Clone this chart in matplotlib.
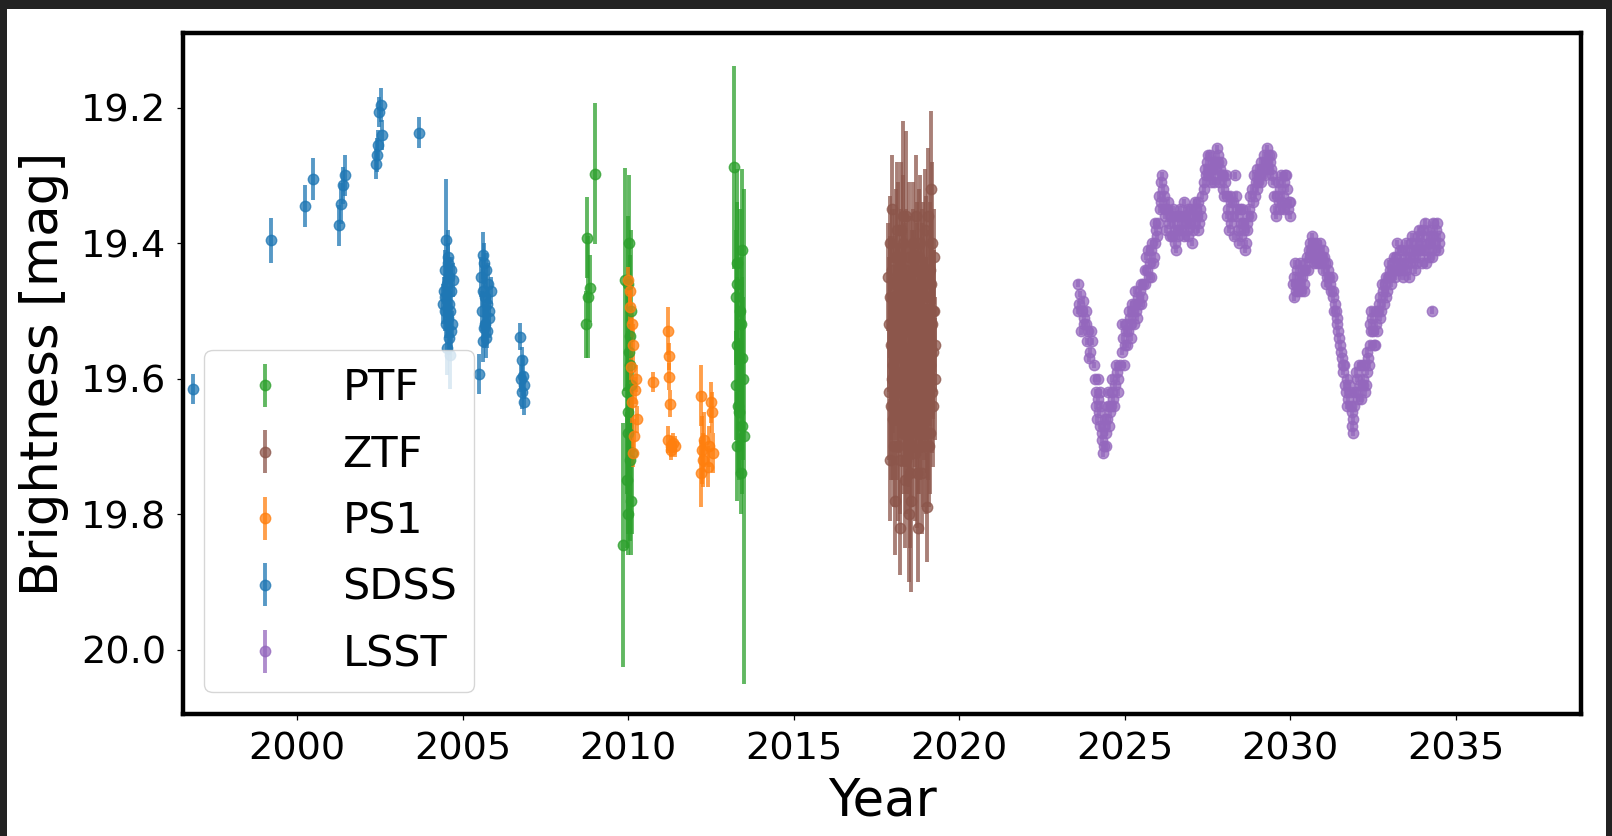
import matplotlib
matplotlib.use('Agg')
import matplotlib.pyplot as plt
from matplotlib.patches import Rectangle
import numpy as np

# ---- light curve data (year, magnitude, error)

sdss_year = [1996.86, 1999.21, 2000.24, 2000.49, 2001.27, 2001.33, 2001.38, 2001.45,
             2002.38, 2002.40, 2002.45, 2002.48, 2002.52, 2002.56, 2003.67,
             2004.50, 2004.55, 2004.45, 2004.60, 2004.52, 2004.65, 2004.48, 2004.58,
             2004.62, 2004.42, 2004.70, 2004.55, 2004.50, 2004.64, 2004.45, 2004.58,
             2004.68, 2004.52, 2004.62, 2004.56, 2004.66, 2004.40,
             2005.60, 2005.65, 2005.70, 2005.55, 2005.75, 2005.62, 2005.68, 2005.72,
             2005.58, 2005.80, 2005.66, 2005.74, 2005.70, 2005.64, 2005.78, 2005.62,
             2005.50, 2005.85,
             2006.72, 2006.78, 2006.82, 2006.85, 2006.80, 2006.86, 2006.76]
sdss_mag = [19.615, 19.396, 19.345, 19.305, 19.374, 19.342, 19.315, 19.300,
            19.283, 19.270, 19.255, 19.206, 19.196, 19.240, 19.237,
            19.396, 19.420, 19.440, 19.450, 19.460, 19.470, 19.480, 19.490,
            19.500, 19.470, 19.455, 19.510, 19.520, 19.530, 19.500, 19.540,
            19.520, 19.555, 19.565, 19.430, 19.440, 19.490,
            19.418, 19.430, 19.440, 19.450, 19.460, 19.470, 19.480, 19.490,
            19.500, 19.510, 19.520, 19.530, 19.540, 19.525, 19.500, 19.545,
            19.593, 19.470,
            19.538, 19.573, 19.596, 19.610, 19.620, 19.634, 19.600]
sdss_err = [0.022, 0.033, 0.031, 0.031, 0.030, 0.030, 0.028, 0.030,
            0.022, 0.025, 0.022, 0.022, 0.025, 0.022, 0.023,
            0.090, 0.040, 0.030, 0.030, 0.030, 0.030, 0.030, 0.025,
            0.030, 0.020, 0.025, 0.030, 0.020, 0.030, 0.030, 0.025,
            0.020, 0.040, 0.050, 0.030, 0.020, 0.030,
            0.035, 0.030, 0.025, 0.030, 0.030, 0.025, 0.030, 0.025,
            0.030, 0.030, 0.030, 0.025, 0.030, 0.030, 0.025, 0.030,
            0.030, 0.020,
            0.020, 0.020, 0.030, 0.020, 0.025, 0.020, 0.020]

ps1_year = [2010.00, 2010.05, 2010.10, 2010.15, 2010.08, 2010.20, 2010.12, 2010.25,
            2010.18, 2010.05, 2010.22, 2010.15,
            2010.74,
            2011.20, 2011.22, 2011.22, 2011.25, 2011.20, 2011.30, 2011.35, 2011.28, 2011.40,
            2012.20, 2012.22, 2012.25, 2012.20, 2012.30, 2012.45, 2012.50, 2012.52,
            2012.55, 2012.40]
ps1_mag = [19.455, 19.494, 19.519, 19.550, 19.583, 19.617, 19.635, 19.660,
           19.684, 19.470, 19.600, 19.710,
           19.605,
           19.530, 19.567, 19.597, 19.637, 19.690, 19.700, 19.695, 19.705, 19.700,
           19.625, 19.705, 19.720, 19.740, 19.690, 19.700, 19.635, 19.650,
           19.710, 19.730]
ps1_err = [0.020, 0.025, 0.020, 0.030, 0.025, 0.020, 0.030, 0.020,
           0.025, 0.020, 0.020, 0.020,
           0.015,
           0.035, 0.020, 0.020, 0.020, 0.020, 0.015, 0.015, 0.015, 0.015,
           0.045, 0.050, 0.040, 0.050, 0.040, 0.030, 0.030, 0.030,
           0.030, 0.030]

ptf_year = [2008.75, 2008.78, 2008.85, 2008.72, 2009.00,
            2009.85, 2009.90, 2010.00, 2010.05, 2010.02, 2010.08, 2010.00, 2010.10,
            2009.95, 2010.00, 2010.05, 2009.98, 2010.03, 2010.07, 2009.97, 2010.04,
            2010.09,
            2013.20, 2013.45, 2013.30, 2013.25, 2013.40, 2013.30, 2013.45, 2013.25,
            2013.45, 2013.50, 2013.35, 2013.30, 2013.28, 2013.38, 2013.48, 2013.32,
            2013.42]
ptf_mag = [19.392, 19.480, 19.467, 19.520, 19.298,
           19.845, 19.454, 19.460, 19.537, 19.560, 19.610, 19.650, 19.710,
           19.750, 19.800, 19.580, 19.680, 19.400, 19.500, 19.620, 19.720,
           19.780,
           19.288, 19.410, 19.460, 19.480, 19.520, 19.550, 19.570, 19.610,
           19.670, 19.685, 19.650, 19.700, 19.430, 19.500, 19.600, 19.640,
           19.740]
ptf_err = [0.060, 0.090, 0.050, 0.050, 0.104,
           0.180, 0.165, 0.100, 0.120, 0.100, 0.100, 0.100, 0.120,
           0.100, 0.060, 0.100, 0.150, 0.100, 0.120, 0.150, 0.120,
           0.080,
           0.150, 0.120, 0.120, 0.100, 0.100, 0.100, 0.120, 0.080,
           0.100, 0.365, 0.100, 0.080, 0.140, 0.150, 0.120, 0.100,
           0.060]

ztf_year = [2017.85, 2017.88, 2017.90, 2017.92, 2017.95, 2017.98, 2018.00, 2018.02,
            2018.05, 2018.08, 2018.10, 2018.12, 2018.15, 2018.18, 2018.20, 2018.22,
            2018.25, 2018.28, 2018.30, 2018.32, 2018.35, 2018.38, 2018.40, 2018.42,
            2018.45, 2018.48, 2018.50, 2018.52, 2018.55, 2018.58, 2018.60, 2018.62,
            2018.65, 2018.68, 2018.70, 2018.72, 2018.75, 2018.78, 2018.80, 2018.82,
            2018.85, 2018.88, 2018.90, 2018.92, 2018.95, 2018.98, 2019.00, 2019.02,
            2019.05, 2019.08, 2019.10, 2019.12, 2019.15, 2019.20, 2019.22, 2019.25,
            2019.28, 2018.06, 2018.14, 2018.26, 2018.36, 2018.46, 2018.56, 2018.66,
            2018.76, 2018.86, 2018.96, 2019.06, 2019.16, 2017.96, 2018.34, 2018.74,
            2017.87, 2017.91, 2017.94, 2017.97, 2018.01, 2018.04, 2018.07, 2018.09,
            2018.11, 2018.13, 2018.16, 2018.19, 2018.21, 2018.24, 2018.27, 2018.29,
            2018.31, 2018.33, 2018.37, 2018.39, 2018.41, 2018.44, 2018.47, 2018.49,
            2018.51, 2018.54, 2018.57, 2018.59, 2018.61, 2018.64, 2018.67, 2018.69,
            2018.71, 2018.73, 2018.77, 2018.79, 2018.81, 2018.84, 2018.87, 2018.89,
            2018.91, 2018.94, 2018.97, 2018.99, 2019.01, 2019.04, 2019.07, 2019.09,
            2019.11, 2019.14, 2019.17, 2019.19, 2019.21, 2019.24, 2019.27]
ztf_mag = [19.45, 19.62, 19.40, 19.72, 19.55, 19.35, 19.66, 19.50,
           19.78, 19.42, 19.60, 19.38, 19.70, 19.48, 19.56, 19.82,
           19.38, 19.64, 19.36, 19.52, 19.75, 19.44, 19.36, 19.68,
           19.58, 19.80, 19.46, 19.74, 19.78, 19.62, 19.40, 19.54,
           19.71, 19.36, 19.60, 19.48, 19.82, 19.42, 19.66, 19.40,
           19.56, 19.74, 19.45, 19.62, 19.38, 19.70, 19.52, 19.79,
           19.36, 19.58, 19.44, 19.68, 19.32, 19.50, 19.64, 19.42,
           19.55, 19.57, 19.51, 19.59, 19.63, 19.53, 19.49, 19.61,
           19.55, 19.47, 19.58, 19.65, 19.52, 19.60, 19.50, 19.68,
           19.52, 19.48, 19.64, 19.44, 19.58, 19.70, 19.46, 19.54,
           19.66, 19.50, 19.42, 19.62, 19.72, 19.45, 19.55, 19.68,
           19.40, 19.60, 19.48, 19.72, 19.56, 19.64, 19.42, 19.66,
           19.52, 19.60, 19.70, 19.46, 19.58, 19.48, 19.64, 19.52,
           19.74, 19.44, 19.58, 19.68, 19.50, 19.62, 19.46, 19.56,
           19.70, 19.52, 19.60, 19.44, 19.64, 19.48, 19.70, 19.54,
           19.58, 19.46, 19.62, 19.40, 19.56, 19.50, 19.60]
ztf_err = [0.08, 0.10, 0.07, 0.09, 0.10, 0.08, 0.09, 0.11,
           0.08, 0.10, 0.09, 0.10, 0.11, 0.08, 0.12, 0.07,
           0.10, 0.09, 0.14, 0.10, 0.10, 0.09, 0.125, 0.09,
           0.09, 0.10, 0.10, 0.11, 0.135, 0.10, 0.09, 0.12,
           0.10, 0.09, 0.08, 0.11, 0.08, 0.10, 0.09, 0.10,
           0.09, 0.09, 0.11, 0.10, 0.09, 0.10, 0.10, 0.08,
           0.10, 0.09, 0.10, 0.09, 0.115, 0.09, 0.09, 0.07,
           0.07, 0.10, 0.11, 0.09, 0.10, 0.09, 0.11, 0.10,
           0.09, 0.10, 0.09, 0.10, 0.10, 0.09, 0.11, 0.09,
           0.10, 0.09, 0.11, 0.09, 0.10, 0.09, 0.11, 0.10,
           0.09, 0.10, 0.11, 0.09, 0.08, 0.10, 0.12, 0.09,
           0.10, 0.09, 0.11, 0.08, 0.10, 0.09, 0.11, 0.10,
           0.12, 0.10, 0.09, 0.11, 0.10, 0.10, 0.09, 0.11,
           0.08, 0.10, 0.11, 0.09, 0.10, 0.09, 0.11, 0.10,
           0.09, 0.10, 0.09, 0.11, 0.10, 0.10, 0.09, 0.10,
           0.09, 0.10, 0.09, 0.12, 0.10, 0.09, 0.09]

# LSST simulated season-by-season points (two passes over the curve)
lsst_year = [2023.58, 2023.62, 2023.66, 2023.70, 2023.74, 2023.78, 2023.82, 2023.86,
             2023.90, 2023.95, 2024.00,
             2024.06, 2024.10, 2024.14, 2024.18, 2024.22, 2024.26, 2024.30, 2024.34,
             2024.38, 2024.42, 2024.46, 2024.50, 2024.55, 2024.60, 2024.65, 2024.70,
             2024.75, 2024.80, 2024.85, 2024.20, 2024.28, 2024.36,
             2024.90, 2024.95, 2025.00, 2025.05, 2025.10, 2025.15, 2025.20, 2025.25,
             2025.30, 2025.35, 2025.40, 2025.45, 2025.50, 2025.55,
             2025.60, 2025.65, 2025.70, 2025.75, 2025.80, 2025.85, 2025.90, 2025.95,
             2026.00,
             2026.05, 2026.10, 2026.13, 2026.18, 2026.22, 2026.28, 2026.32, 2026.38,
             2026.42, 2026.48, 2026.52, 2026.58, 2026.62, 2026.68, 2026.72, 2026.78,
             2026.82, 2026.88, 2026.92, 2026.98, 2027.02, 2027.08, 2027.12, 2027.18,
             2027.22, 2027.28, 2027.32,
             2027.38, 2027.42, 2027.48, 2027.52, 2027.58, 2027.62, 2027.68, 2027.72,
             2027.78, 2027.82, 2027.88, 2027.92, 2027.98, 2028.02, 2028.08,
             2028.12, 2028.18, 2028.22, 2028.28, 2028.32, 2028.38, 2028.42, 2028.48,
             2028.52, 2028.58, 2028.62, 2028.68, 2028.72, 2028.78,
             2028.85, 2028.90, 2028.95, 2029.00, 2029.05, 2029.10, 2029.15, 2029.20,
             2029.25, 2029.30, 2029.35, 2029.40, 2029.45,
             2029.55, 2029.60, 2029.65, 2029.70, 2029.75, 2029.80, 2029.85, 2029.90,
             2029.95, 2030.00,
             2030.08, 2030.12, 2030.16, 2030.20, 2030.25, 2030.30, 2030.35, 2030.40,
             2030.45, 2030.50, 2030.55, 2030.60, 2030.65, 2030.70, 2030.75, 2030.80,
             2030.85, 2030.90, 2030.95, 2031.00, 2031.05, 2031.10, 2031.15, 2031.20,
             2031.25,
             2031.30, 2031.35, 2031.40, 2031.45, 2031.50, 2031.55, 2031.60, 2031.65,
             2031.70, 2031.75, 2031.80, 2031.85, 2031.90, 2031.88,
             2031.95, 2032.00, 2032.05, 2032.10, 2032.15, 2032.20, 2032.25, 2032.30,
             2032.35,
             2032.40, 2032.42, 2032.45, 2032.50, 2032.55, 2032.60, 2032.65, 2032.70,
             2032.75, 2032.80, 2032.85, 2032.90, 2032.95, 2033.00, 2033.05, 2033.10,
             2033.15, 2033.20, 2033.25, 2033.30,
             2033.35, 2033.40, 2033.45, 2033.50, 2033.55, 2033.60, 2033.65, 2033.70,
             2033.75, 2033.80, 2033.85, 2033.90, 2033.95, 2034.00, 2034.05, 2034.10,
             2034.15, 2034.20, 2034.25, 2034.30, 2034.35, 2034.40, 2034.45, 2034.50,
             2034.28,
             2023.60, 2023.68, 2023.76, 2023.84, 2023.92, 2023.98,
             2024.12, 2024.16, 2024.24, 2024.32, 2024.40, 2024.44, 2024.48, 2024.52,
             2024.58, 2024.62, 2024.68, 2024.72, 2024.78,
             2024.92, 2024.98, 2025.02, 2025.08, 2025.12, 2025.18, 2025.22, 2025.28,
             2025.32, 2025.38, 2025.42, 2025.48, 2025.52,
             2025.62, 2025.68, 2025.72, 2025.78, 2025.82, 2025.88, 2025.92, 2025.98,
             2026.02, 2026.08, 2026.15, 2026.20, 2026.25, 2026.30, 2026.35, 2026.40,
             2026.45, 2026.50, 2026.55, 2026.60, 2026.65, 2026.70, 2026.75, 2026.80,
             2026.85, 2026.90, 2026.95, 2027.00, 2027.05, 2027.10, 2027.15, 2027.20,
             2027.25, 2027.30,
             2027.40, 2027.45, 2027.50, 2027.55, 2027.60, 2027.65, 2027.70, 2027.75,
             2027.80, 2027.85, 2027.90, 2027.95, 2028.00, 2028.05,
             2028.10, 2028.15, 2028.20, 2028.25, 2028.30, 2028.35, 2028.40, 2028.45,
             2028.50, 2028.55, 2028.60, 2028.65, 2028.70, 2028.75, 2028.80,
             2028.88, 2028.92, 2028.98, 2029.02, 2029.08, 2029.12, 2029.18, 2029.22,
             2029.28, 2029.32, 2029.38, 2029.42, 2029.48,
             2029.52, 2029.58, 2029.62, 2029.68, 2029.72, 2029.78, 2029.82, 2029.88,
             2029.92, 2029.98,
             2030.10, 2030.14, 2030.18, 2030.22, 2030.28, 2030.32, 2030.38, 2030.42,
             2030.48, 2030.52, 2030.58, 2030.62, 2030.68, 2030.72, 2030.78, 2030.82,
             2030.88, 2030.92, 2030.98, 2031.02, 2031.08, 2031.12, 2031.18, 2031.22,
             2031.28,
             2031.32, 2031.38, 2031.42, 2031.48, 2031.52, 2031.58, 2031.62, 2031.68,
             2031.72, 2031.78, 2031.82, 2031.86,
             2031.92, 2031.98, 2032.02, 2032.08, 2032.12, 2032.18, 2032.22, 2032.28,
             2032.32, 2032.38,
             2032.44, 2032.48, 2032.52, 2032.58, 2032.62, 2032.68, 2032.72, 2032.78,
             2032.82, 2032.88, 2032.92, 2032.98, 2033.02, 2033.08, 2033.12, 2033.18,
             2033.22, 2033.28,
             2033.32, 2033.38, 2033.42, 2033.48, 2033.52, 2033.58, 2033.62, 2033.68,
             2033.72, 2033.78, 2033.82, 2033.88, 2033.92, 2033.98, 2034.02, 2034.08,
             2034.12, 2034.18, 2034.22, 2034.28, 2034.32, 2034.38, 2034.42, 2034.48]
lsst_mag = [19.46, 19.49, 19.475, 19.50, 19.485, 19.52, 19.50, 19.545,
            19.53, 19.56, 19.545,
            19.58, 19.60, 19.62, 19.63, 19.65, 19.67, 19.69, 19.71,
            19.70, 19.68, 19.66, 19.64, 19.65, 19.62, 19.63, 19.61,
            19.59, 19.60, 19.58, 19.60, 19.64, 19.67,
            19.56, 19.54, 19.55, 19.52, 19.53, 19.51, 19.52, 19.50,
            19.49, 19.50, 19.48, 19.47, 19.49, 19.46,
            19.44, 19.42, 19.41, 19.43, 19.45, 19.43, 19.40, 19.38,
            19.37,
            19.35, 19.31, 19.30, 19.33, 19.36, 19.35, 19.37, 19.36,
            19.39, 19.37, 19.40, 19.36, 19.38, 19.35, 19.37, 19.39,
            19.36, 19.38, 19.35, 19.37, 19.40, 19.36, 19.34, 19.36,
            19.38, 19.35, 19.33,
            19.31, 19.29, 19.28, 19.30, 19.27, 19.29, 19.31, 19.28,
            19.26, 19.27, 19.29, 19.30, 19.32, 19.31, 19.33,
            19.35, 19.33, 19.37, 19.34, 19.30, 19.36, 19.38, 19.35,
            19.39, 19.37, 19.41, 19.38, 19.36, 19.33,
            19.32, 19.30, 19.31, 19.29, 19.30, 19.28, 19.29, 19.27,
            19.28, 19.26, 19.27, 19.29, 19.30,
            19.35, 19.33, 19.34, 19.32, 19.34, 19.31, 19.30, 19.32,
            19.34, 19.36,
            19.46, 19.45, 19.47, 19.44, 19.46, 19.43, 19.45, 19.47,
            19.44, 19.42, 19.41, 19.40, 19.39, 19.42, 19.41, 19.43,
            19.42, 19.40, 19.42, 19.41, 19.43, 19.45, 19.44, 19.46,
            19.45,
            19.47, 19.49, 19.51, 19.53, 19.55, 19.57, 19.59, 19.61,
            19.60, 19.63, 19.62, 19.65, 19.68, 19.66,
            19.62, 19.60, 19.63, 19.61, 19.58, 19.60, 19.62, 19.59,
            19.57,
            19.55, 19.52, 19.50, 19.53, 19.55, 19.52, 19.50, 19.48,
            19.50, 19.47, 19.46, 19.48, 19.45, 19.44, 19.46, 19.43,
            19.45, 19.42, 19.44, 19.41,
            19.43, 19.45, 19.42, 19.44, 19.41, 19.43, 19.40, 19.42,
            19.44, 19.41, 19.39, 19.42, 19.40, 19.38, 19.41, 19.43,
            19.40, 19.42, 19.39, 19.37, 19.40, 19.38, 19.41, 19.39,
            19.50,
            19.50, 19.53, 19.51, 19.52, 19.57, 19.53,
            19.64, 19.66, 19.62, 19.68, 19.66, 19.70, 19.62, 19.67,
            19.64, 19.60, 19.64, 19.58, 19.62,
            19.52, 19.58, 19.53, 19.55, 19.50, 19.54, 19.49, 19.52,
            19.47, 19.51, 19.49, 19.46, 19.48,
            19.46, 19.44, 19.45, 19.41, 19.40, 19.42, 19.37, 19.39,
            19.33, 19.34, 19.32, 19.35, 19.38, 19.34, 19.39, 19.36,
            19.35, 19.38, 19.41, 19.39, 19.36, 19.38, 19.36, 19.34,
            19.37, 19.39, 19.36, 19.35, 19.38, 19.37, 19.35, 19.34,
            19.37, 19.36,
            19.32, 19.30, 19.27, 19.29, 19.31, 19.28, 19.30, 19.29,
            19.28, 19.31, 19.28, 19.30, 19.33, 19.30,
            19.36, 19.38, 19.34, 19.36, 19.39, 19.33, 19.35, 19.40,
            19.37, 19.35, 19.38, 19.40, 19.37, 19.35, 19.36,
            19.34, 19.33, 19.32, 19.31, 19.30, 19.31, 19.29, 19.30,
            19.28, 19.29, 19.28, 19.27, 19.31,
            19.33, 19.36, 19.31, 19.35, 19.30, 19.33, 19.35, 19.30,
            19.35, 19.34,
            19.48, 19.43, 19.46, 19.47, 19.45, 19.47, 19.44, 19.46,
            19.43, 19.44, 19.42, 19.41, 19.40, 19.43, 19.40, 19.41,
            19.43, 19.42, 19.44, 19.42, 19.46, 19.43, 19.45, 19.47,
            19.48,
            19.50, 19.50, 19.52, 19.54, 19.56, 19.58, 19.58, 19.62,
            19.64, 19.61, 19.64, 19.67,
            19.64, 19.59, 19.62, 19.58, 19.63, 19.61, 19.58, 19.61,
            19.56, 19.58,
            19.53, 19.51, 19.55, 19.50, 19.53, 19.49, 19.51, 19.46,
            19.49, 19.45, 19.47, 19.43, 19.45, 19.44, 19.42, 19.44,
            19.40, 19.43,
            19.44, 19.41, 19.44, 19.40, 19.43, 19.45, 19.42, 19.39,
            19.41, 19.43, 19.40, 19.38, 19.41, 19.43, 19.39, 19.37,
            19.41, 19.38, 19.40, 19.42, 19.39, 19.41, 19.37, 19.40]
lsst_err = [0.005] * len(lsst_mag)

surveys = ['PTF', 'ZTF', 'PS1', 'SDSS', 'LSST']
survey_colors = ['tab:green', 'tab:brown', 'tab:orange', 'tab:blue', 'tab:purple']

data = {
    'PTF': (ptf_year, ptf_mag, ptf_err),
    'ZTF': (ztf_year, ztf_mag, ztf_err),
    'PS1': (ps1_year, ps1_mag, ps1_err),
    'SDSS': (sdss_year, sdss_mag, sdss_err),
    'LSST': (lsst_year, lsst_mag, lsst_err),
}

#### figure

fig = plt.figure(figsize=(16.12, 8.36), dpi=100)
fig.patch.set_facecolor('#222222')
fig.patches.append(Rectangle((7 / 1612, 0), 1599 / 1612, 827 / 836,
                             transform=fig.transFigure, facecolor='white',
                             edgecolor='none', zorder=-10))

ax = fig.add_axes([0.1135, 0.1459, 0.9808 - 0.1135, 0.9605 - 0.1459])

for name, color in zip(surveys, survey_colors):
  t, m, e = data[name]
  ax.errorbar(t, m, yerr=e, fmt='o', color=color, markersize=7.5,
              elinewidth=2.8, alpha=0.75, label=name)

ax.set_xlim(1996.55, 2038.78)
ax.set_ylim(20.095, 19.09)
ax.set_yticks([19.2, 19.4, 19.6, 19.8, 20.0])
ax.set_xticks(np.arange(2000, 2036, 5))

for s in ax.spines.values():
  s.set_linewidth(3.2)

ax.tick_params(labelsize=27.5, length=4.3, width=0.9, pad=8)

ax.set_xlabel('Year', fontsize=37, labelpad=7)
ax.set_ylabel('Brightness [mag]', fontsize=37, labelpad=8)

ax.legend(loc='lower left', fontsize=31, labelspacing=0.57)

fig.savefig('out.png', dpi=100, facecolor=fig.get_facecolor())
